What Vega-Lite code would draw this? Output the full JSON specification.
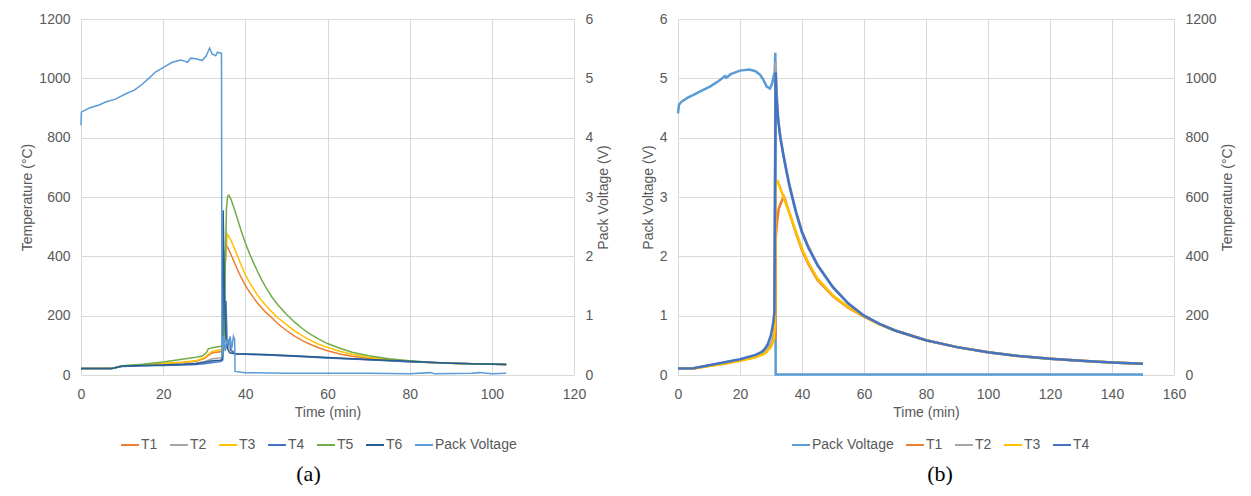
{
  "$schema": "https://vega.github.io/schema/vega-lite/v6.json",
  "background": "white",
  "padding": {"left": 20, "top": 12, "right": 3, "bottom": 0},
  "spacing": 30,
  "config": {
    "font": "Liberation Sans",
    "view": {"stroke": null},
    "axis": {
      "labelFont": "Liberation Sans", "labelFontSize": 14, "labelColor": "#595959",
      "titleFont": "Liberation Sans", "titleFontSize": 14, "titleColor": "#595959", "titleFontWeight": "normal",
      "ticks": false, "domain": false, "gridColor": "#d9d9d9", "gridWidth": 1, "labelPadding": 11, "titlePadding": 4, "format": "d", "labelFlush": false
    },
    "axisX": {"labelPadding": 12, "titlePadding": 4},
    "legend": {
      "labelFont": "Liberation Sans", "labelFontSize": 14, "labelColor": "#595959",
      "symbolType": "stroke", "symbolSize": 324, "symbolStrokeWidth": 2, "labelOffset": 1,
      "direction": "horizontal", "orient": "none", "columns": 7, "columnPadding": 8, "title": null
    },
    "title": {"font": "Liberation Serif", "fontSize": 22, "fontWeight": "normal", "color": "#000000", "orient": "bottom", "anchor": "middle", "frame": "group", "offset": 12}
  },
  "resolve": {"scale": {"color": "independent"}},
  "datasets": {
    "a": [
      {"s":"T1","t":0,"v":22},{"s":"T1","t":7.5,"v":22},{"s":"T1","t":10,"v":30},{"s":"T1","t":15,"v":33},{"s":"T1","t":20,"v":38},{"s":"T1","t":25,"v":42},{"s":"T1","t":28,"v":46},{"s":"T1","t":30,"v":55},{"s":"T1","t":31,"v":66},{"s":"T1","t":32,"v":75},{"s":"T1","t":34,"v":78},{"s":"T1","t":34.6,"v":82},{"s":"T1","t":34.9,"v":300},{"s":"T1","t":35.3,"v":440},{"s":"T1","t":36,"v":422},{"s":"T1","t":37,"v":390},{"s":"T1","t":38,"v":358},{"s":"T1","t":39,"v":328},{"s":"T1","t":40,"v":302},{"s":"T1","t":41,"v":280},{"s":"T1","t":42,"v":260},{"s":"T1","t":43,"v":242},{"s":"T1","t":44,"v":226},{"s":"T1","t":45,"v":211},{"s":"T1","t":46.5,"v":192},{"s":"T1","t":48,"v":172},{"s":"T1","t":50,"v":150},{"s":"T1","t":52,"v":131},{"s":"T1","t":54,"v":115},{"s":"T1","t":56,"v":102},{"s":"T1","t":58,"v":91},{"s":"T1","t":60,"v":82},{"s":"T1","t":63,"v":71},{"s":"T1","t":66,"v":63},{"s":"T1","t":70,"v":56},{"s":"T1","t":75,"v":50},{"s":"T1","t":80,"v":45},{"s":"T1","t":85,"v":42},{"s":"T1","t":90,"v":40},{"s":"T1","t":95,"v":38},{"s":"T1","t":100,"v":36},{"s":"T1","t":103.5,"v":35},
      {"s":"T2","t":0,"v":22},{"s":"T2","t":7.5,"v":22},{"s":"T2","t":10,"v":30},{"s":"T2","t":15,"v":32},{"s":"T2","t":20,"v":34},{"s":"T2","t":25,"v":37},{"s":"T2","t":28,"v":40},{"s":"T2","t":30,"v":45},{"s":"T2","t":32,"v":55},{"s":"T2","t":34,"v":58},{"s":"T2","t":34.6,"v":62},{"s":"T2","t":34.9,"v":180},{"s":"T2","t":35.3,"v":110},{"s":"T2","t":35.8,"v":95},{"s":"T2","t":36.5,"v":80},{"s":"T2","t":37.5,"v":72},{"s":"T2","t":45,"v":68},{"s":"T2","t":53,"v":63},{"s":"T2","t":60,"v":58},{"s":"T2","t":70,"v":51},{"s":"T2","t":80,"v":45},{"s":"T2","t":90,"v":40},{"s":"T2","t":103.5,"v":35},
      {"s":"T3","t":0,"v":22},{"s":"T3","t":7.5,"v":22},{"s":"T3","t":10,"v":30},{"s":"T3","t":15,"v":34},{"s":"T3","t":20,"v":39},{"s":"T3","t":25,"v":44},{"s":"T3","t":28,"v":48},{"s":"T3","t":30,"v":58},{"s":"T3","t":31,"v":70},{"s":"T3","t":32,"v":80},{"s":"T3","t":34,"v":85},{"s":"T3","t":34.7,"v":90},{"s":"T3","t":35,"v":350},{"s":"T3","t":35.6,"v":475},{"s":"T3","t":36.3,"v":460},{"s":"T3","t":37,"v":438},{"s":"T3","t":38,"v":405},{"s":"T3","t":39,"v":370},{"s":"T3","t":40,"v":338},{"s":"T3","t":41,"v":312},{"s":"T3","t":42,"v":290},{"s":"T3","t":43,"v":268},{"s":"T3","t":44,"v":250},{"s":"T3","t":45,"v":234},{"s":"T3","t":46.5,"v":212},{"s":"T3","t":48,"v":192},{"s":"T3","t":50,"v":170},{"s":"T3","t":52,"v":149},{"s":"T3","t":54,"v":131},{"s":"T3","t":56,"v":116},{"s":"T3","t":58,"v":103},{"s":"T3","t":60,"v":93},{"s":"T3","t":63,"v":80},{"s":"T3","t":66,"v":70},{"s":"T3","t":70,"v":60},{"s":"T3","t":75,"v":52},{"s":"T3","t":80,"v":46},{"s":"T3","t":85,"v":42},{"s":"T3","t":90,"v":40},{"s":"T3","t":95,"v":38},{"s":"T3","t":100,"v":36},{"s":"T3","t":103.5,"v":35},
      {"s":"T4","t":0,"v":22},{"s":"T4","t":7.5,"v":22},{"s":"T4","t":10,"v":29},{"s":"T4","t":15,"v":31},{"s":"T4","t":20,"v":32},{"s":"T4","t":25,"v":34},{"s":"T4","t":28,"v":35},{"s":"T4","t":30,"v":38},{"s":"T4","t":32,"v":42},{"s":"T4","t":34,"v":45},{"s":"T4","t":34.5,"v":50},{"s":"T4","t":34.7,"v":420},{"s":"T4","t":35,"v":150},{"s":"T4","t":35.3,"v":250},{"s":"T4","t":35.6,"v":90},{"s":"T4","t":36,"v":120},{"s":"T4","t":36.5,"v":85},{"s":"T4","t":37.5,"v":72},{"s":"T4","t":45,"v":67},{"s":"T4","t":53,"v":62},{"s":"T4","t":60,"v":57},{"s":"T4","t":70,"v":51},{"s":"T4","t":80,"v":45},{"s":"T4","t":90,"v":40},{"s":"T4","t":103.5,"v":35},
      {"s":"T5","t":0,"v":22},{"s":"T5","t":7.5,"v":22},{"s":"T5","t":10,"v":31},{"s":"T5","t":15,"v":36},{"s":"T5","t":20,"v":44},{"s":"T5","t":25,"v":54},{"s":"T5","t":28,"v":60},{"s":"T5","t":29.5,"v":64},{"s":"T5","t":30.5,"v":75},{"s":"T5","t":31,"v":88},{"s":"T5","t":32,"v":92},{"s":"T5","t":34,"v":97},{"s":"T5","t":34.8,"v":102},{"s":"T5","t":35.1,"v":350},{"s":"T5","t":35.4,"v":560},{"s":"T5","t":35.7,"v":603},{"s":"T5","t":36,"v":606},{"s":"T5","t":36.5,"v":592},{"s":"T5","t":37.2,"v":565},{"s":"T5","t":38,"v":530},{"s":"T5","t":39,"v":485},{"s":"T5","t":40,"v":445},{"s":"T5","t":41,"v":410},{"s":"T5","t":42,"v":378},{"s":"T5","t":43,"v":348},{"s":"T5","t":44,"v":320},{"s":"T5","t":45,"v":295},{"s":"T5","t":46.5,"v":262},{"s":"T5","t":48,"v":235},{"s":"T5","t":50,"v":205},{"s":"T5","t":52,"v":178},{"s":"T5","t":54,"v":155},{"s":"T5","t":56,"v":136},{"s":"T5","t":58,"v":120},{"s":"T5","t":60,"v":106},{"s":"T5","t":63,"v":90},{"s":"T5","t":66,"v":77},{"s":"T5","t":70,"v":65},{"s":"T5","t":75,"v":55},{"s":"T5","t":80,"v":48},{"s":"T5","t":85,"v":43},{"s":"T5","t":90,"v":40},{"s":"T5","t":95,"v":38},{"s":"T5","t":100,"v":36},{"s":"T5","t":103.5,"v":35},
      {"s":"T6","t":0,"v":22},{"s":"T6","t":7.5,"v":22},{"s":"T6","t":10,"v":30},{"s":"T6","t":15,"v":32},{"s":"T6","t":20,"v":34},{"s":"T6","t":25,"v":36},{"s":"T6","t":28,"v":39},{"s":"T6","t":30,"v":43},{"s":"T6","t":32,"v":48},{"s":"T6","t":34,"v":50},{"s":"T6","t":34.4,"v":55},{"s":"T6","t":34.6,"v":555},{"s":"T6","t":34.9,"v":300},{"s":"T6","t":35.2,"v":140},{"s":"T6","t":35.6,"v":90},{"s":"T6","t":36.2,"v":75},{"s":"T6","t":37.5,"v":72},{"s":"T6","t":45,"v":69},{"s":"T6","t":53,"v":64},{"s":"T6","t":60,"v":59},{"s":"T6","t":70,"v":52},{"s":"T6","t":80,"v":46},{"s":"T6","t":90,"v":40},{"s":"T6","t":103.5,"v":35},
      {"s":"Pack Voltage","t":0,"v":4.21},{"s":"Pack Voltage","t":0.1,"v":4.43},{"s":"Pack Voltage","t":2,"v":4.5},{"s":"Pack Voltage","t":4.4,"v":4.55},{"s":"Pack Voltage","t":6,"v":4.6},{"s":"Pack Voltage","t":8.4,"v":4.65},{"s":"Pack Voltage","t":10.9,"v":4.74},{"s":"Pack Voltage","t":13,"v":4.8},{"s":"Pack Voltage","t":14.9,"v":4.9},{"s":"Pack Voltage","t":16.5,"v":5.0},{"s":"Pack Voltage","t":18.2,"v":5.11},{"s":"Pack Voltage","t":20,"v":5.18},{"s":"Pack Voltage","t":22.2,"v":5.27},{"s":"Pack Voltage","t":24.3,"v":5.31},{"s":"Pack Voltage","t":25.2,"v":5.29},{"s":"Pack Voltage","t":25.9,"v":5.27},{"s":"Pack Voltage","t":26.7,"v":5.34},{"s":"Pack Voltage","t":28,"v":5.33},{"s":"Pack Voltage","t":29.5,"v":5.3},{"s":"Pack Voltage","t":30.5,"v":5.38},{"s":"Pack Voltage","t":31.3,"v":5.51},{"s":"Pack Voltage","t":31.9,"v":5.41},{"s":"Pack Voltage","t":32.8,"v":5.38},{"s":"Pack Voltage","t":33.2,"v":5.44},{"s":"Pack Voltage","t":34.2,"v":5.42},{"s":"Pack Voltage","t":34.3,"v":0.3},{"s":"Pack Voltage","t":34.7,"v":0.65},{"s":"Pack Voltage","t":35.1,"v":0.4},{"s":"Pack Voltage","t":35.5,"v":0.6},{"s":"Pack Voltage","t":35.9,"v":0.5},{"s":"Pack Voltage","t":36.3,"v":0.65},{"s":"Pack Voltage","t":36.7,"v":0.45},{"s":"Pack Voltage","t":37.1,"v":0.65},{"s":"Pack Voltage","t":37.4,"v":0.6},{"s":"Pack Voltage","t":37.5,"v":0.06},{"s":"Pack Voltage","t":40,"v":0.04},{"s":"Pack Voltage","t":50,"v":0.03},{"s":"Pack Voltage","t":60,"v":0.03},{"s":"Pack Voltage","t":70,"v":0.03},{"s":"Pack Voltage","t":80,"v":0.02},{"s":"Pack Voltage","t":85,"v":0.04},{"s":"Pack Voltage","t":86,"v":0.02},{"s":"Pack Voltage","t":95,"v":0.03},{"s":"Pack Voltage","t":97,"v":0.04},{"s":"Pack Voltage","t":100,"v":0.02},{"s":"Pack Voltage","t":103.5,"v":0.03}
    ],
    "b": [
      {"s":"Pack Voltage","t":0,"v":4.41},{"s":"Pack Voltage","t":0.3,"v":4.55},{"s":"Pack Voltage","t":1,"v":4.6},{"s":"Pack Voltage","t":3,"v":4.67},{"s":"Pack Voltage","t":5,"v":4.72},{"s":"Pack Voltage","t":8,"v":4.8},{"s":"Pack Voltage","t":10.3,"v":4.86},{"s":"Pack Voltage","t":13,"v":4.95},{"s":"Pack Voltage","t":15.2,"v":5.04},{"s":"Pack Voltage","t":15.6,"v":5.01},{"s":"Pack Voltage","t":17,"v":5.07},{"s":"Pack Voltage","t":20,"v":5.13},{"s":"Pack Voltage","t":23,"v":5.15},{"s":"Pack Voltage","t":25,"v":5.12},{"s":"Pack Voltage","t":26.5,"v":5.06},{"s":"Pack Voltage","t":27.5,"v":4.98},{"s":"Pack Voltage","t":28.6,"v":4.86},{"s":"Pack Voltage","t":29.7,"v":4.83},{"s":"Pack Voltage","t":30.4,"v":4.92},{"s":"Pack Voltage","t":30.9,"v":5.05},{"s":"Pack Voltage","t":31.2,"v":5.1},{"s":"Pack Voltage","t":31.4,"v":5.43},{"s":"Pack Voltage","t":31.5,"v":0.01},{"s":"Pack Voltage","t":40,"v":0.01},{"s":"Pack Voltage","t":150,"v":0.01},
      {"s":"T1","t":0,"v":22},{"s":"T1","t":5,"v":22},{"s":"T1","t":10,"v":31},{"s":"T1","t":15,"v":39},{"s":"T1","t":20,"v":49},{"s":"T1","t":25,"v":61},{"s":"T1","t":28,"v":74},{"s":"T1","t":30,"v":98},{"s":"T1","t":31,"v":120},{"s":"T1","t":31.4,"v":130},{"s":"T1","t":31.5,"v":460},{"s":"T1","t":32,"v":520},{"s":"T1","t":32.5,"v":560},{"s":"T1","t":33,"v":575},{"s":"T1","t":33.6,"v":590},{"s":"T1","t":34.1,"v":602},{"s":"T1","t":34.6,"v":590},{"s":"T1","t":35,"v":575},{"s":"T1","t":36,"v":545},{"s":"T1","t":38,"v":480},{"s":"T1","t":40,"v":420},{"s":"T1","t":42,"v":375},{"s":"T1","t":45,"v":320},{"s":"T1","t":50,"v":265},{"s":"T1","t":55,"v":226},{"s":"T1","t":60,"v":197},{"s":"T1","t":65,"v":171},{"s":"T1","t":70,"v":150},{"s":"T1","t":80,"v":117},{"s":"T1","t":90,"v":94},{"s":"T1","t":100,"v":77},{"s":"T1","t":110,"v":64},{"s":"T1","t":120,"v":55},{"s":"T1","t":130,"v":48},{"s":"T1","t":140,"v":42},{"s":"T1","t":150,"v":38},
      {"s":"T2","t":0,"v":22},{"s":"T2","t":5,"v":23},{"s":"T2","t":10,"v":32},{"s":"T2","t":15,"v":40},{"s":"T2","t":20,"v":50},{"s":"T2","t":25,"v":62},{"s":"T2","t":28,"v":78},{"s":"T2","t":30,"v":105},{"s":"T2","t":31,"v":140},{"s":"T2","t":31.3,"v":700},{"s":"T2","t":31.5,"v":1055},{"s":"T2","t":31.8,"v":960},{"s":"T2","t":32.3,"v":870},{"s":"T2","t":33,"v":805},{"s":"T2","t":34,"v":745},{"s":"T2","t":35,"v":690},{"s":"T2","t":36,"v":640},{"s":"T2","t":38,"v":555},{"s":"T2","t":40,"v":485},{"s":"T2","t":42,"v":435},{"s":"T2","t":45,"v":372},{"s":"T2","t":50,"v":297},{"s":"T2","t":55,"v":241},{"s":"T2","t":60,"v":200},{"s":"T2","t":65,"v":172},{"s":"T2","t":70,"v":150},{"s":"T2","t":80,"v":117},{"s":"T2","t":90,"v":94},{"s":"T2","t":100,"v":77},{"s":"T2","t":110,"v":64},{"s":"T2","t":120,"v":55},{"s":"T2","t":130,"v":48},{"s":"T2","t":140,"v":42},{"s":"T2","t":150,"v":38},
      {"s":"T3","t":0,"v":22},{"s":"T3","t":5,"v":22},{"s":"T3","t":10,"v":30},{"s":"T3","t":15,"v":38},{"s":"T3","t":20,"v":48},{"s":"T3","t":25,"v":60},{"s":"T3","t":28,"v":72},{"s":"T3","t":30,"v":95},{"s":"T3","t":31,"v":125},{"s":"T3","t":31.3,"v":180},{"s":"T3","t":31.5,"v":640},{"s":"T3","t":32.2,"v":652},{"s":"T3","t":33,"v":630},{"s":"T3","t":34,"v":600},{"s":"T3","t":35,"v":572},{"s":"T3","t":36,"v":545},{"s":"T3","t":38,"v":485},{"s":"T3","t":40,"v":425},{"s":"T3","t":42,"v":380},{"s":"T3","t":45,"v":325},{"s":"T3","t":50,"v":268},{"s":"T3","t":55,"v":228},{"s":"T3","t":60,"v":198},{"s":"T3","t":65,"v":171},{"s":"T3","t":70,"v":150},{"s":"T3","t":80,"v":117},{"s":"T3","t":90,"v":94},{"s":"T3","t":100,"v":77},{"s":"T3","t":110,"v":64},{"s":"T3","t":120,"v":55},{"s":"T3","t":130,"v":48},{"s":"T3","t":140,"v":42},{"s":"T3","t":150,"v":38},
      {"s":"T4","t":0,"v":22},{"s":"T4","t":5,"v":23},{"s":"T4","t":10,"v":33},{"s":"T4","t":15,"v":43},{"s":"T4","t":20,"v":53},{"s":"T4","t":25,"v":68},{"s":"T4","t":27,"v":78},{"s":"T4","t":28,"v":88},{"s":"T4","t":29,"v":105},{"s":"T4","t":30,"v":135},{"s":"T4","t":30.7,"v":175},{"s":"T4","t":31.1,"v":210},{"s":"T4","t":31.3,"v":600},{"s":"T4","t":31.5,"v":1020},{"s":"T4","t":31.8,"v":930},{"s":"T4","t":32.3,"v":860},{"s":"T4","t":33,"v":800},{"s":"T4","t":34,"v":740},{"s":"T4","t":35,"v":685},{"s":"T4","t":36,"v":635},{"s":"T4","t":38,"v":550},{"s":"T4","t":40,"v":480},{"s":"T4","t":42,"v":430},{"s":"T4","t":45,"v":370},{"s":"T4","t":50,"v":295},{"s":"T4","t":55,"v":240},{"s":"T4","t":60,"v":200},{"s":"T4","t":65,"v":172},{"s":"T4","t":70,"v":150},{"s":"T4","t":80,"v":117},{"s":"T4","t":90,"v":94},{"s":"T4","t":100,"v":77},{"s":"T4","t":110,"v":64},{"s":"T4","t":120,"v":55},{"s":"T4","t":130,"v":48},{"s":"T4","t":140,"v":42},{"s":"T4","t":150,"v":38}
    ]
  },
  "hconcat": [
    {
      "width": 493, "height": 356,
      "title": {"text": "(a)", "dx": -19},
      "resolve": {"scale": {"y": "independent"}},
      "layer": [
        {
          "data": {"name": "a"},
          "transform": [{"filter": "datum.s != 'Pack Voltage'"}],
          "mark": {"type": "line", "strokeWidth": 1.5},
          "encoding": {
            "x": {"field": "t", "type": "quantitative", "scale": {"domain": [0, 120], "nice": false}, "axis": {"title": "Time (min)", "values": [0, 20, 40, 60, 80, 100, 120]}},
            "y": {"field": "v", "type": "quantitative", "scale": {"domain": [0, 1200], "nice": false}, "axis": {"title": "Temperature (°C)", "values": [0, 200, 400, 600, 800, 1000, 1200]}},
            "color": {"field": "s", "type": "nominal", "scale": {"domain": ["T1", "T2", "T3", "T4", "T5", "T6", "Pack Voltage"], "range": ["#ED7D31", "#A5A5A5", "#FFC000", "#4472C4", "#70AD47", "#255E91", "#5B9BD5"]}, "legend": {"legendX": 39, "legendY": 416}}
          }
        },
        {
          "data": {"name": "a"},
          "transform": [{"filter": "datum.s == 'Pack Voltage'"}],
          "mark": {"type": "line", "strokeWidth": 1.5},
          "encoding": {
            "x": {"field": "t", "type": "quantitative"},
            "y": {"field": "v", "type": "quantitative", "scale": {"domain": [0, 6], "nice": false}, "axis": {"orient": "right", "grid": false, "title": "Pack Voltage (V)", "titleAngle": 270, "titleBaseline": "top", "values": [0, 1, 2, 3, 4, 5, 6]}},
            "color": {"field": "s", "type": "nominal"}
          }
        }
      ]
    },
    {
      "width": 496, "height": 356,
      "title": {"text": "(b)", "dx": 14},
      "resolve": {"scale": {"y": "independent"}},
      "layer": [
        {
          "data": {"name": "b"},
          "transform": [{"filter": "datum.s == 'Pack Voltage'"}],
          "mark": {"type": "line", "strokeWidth": 2.5},
          "encoding": {
            "x": {"field": "t", "type": "quantitative", "scale": {"domain": [0, 160], "nice": false}, "axis": {"title": "Time (min)", "values": [0, 20, 40, 60, 80, 100, 120, 140, 160]}},
            "y": {"field": "v", "type": "quantitative", "scale": {"domain": [0, 6], "nice": false}, "axis": {"title": "Pack Voltage (V)", "values": [0, 1, 2, 3, 4, 5, 6]}},
            "color": {"field": "s", "type": "nominal", "scale": {"domain": ["Pack Voltage", "T1", "T2", "T3", "T4"], "range": ["#5B9BD5", "#ED7D31", "#A5A5A5", "#FFC000", "#4472C4"]}, "legend": {"legendX": 113, "legendY": 416}}
          }
        },
        {
          "data": {"name": "b"},
          "transform": [{"filter": "datum.s != 'Pack Voltage'"}],
          "mark": {"type": "line", "strokeWidth": 2.5},
          "encoding": {
            "x": {"field": "t", "type": "quantitative"},
            "y": {"field": "v", "type": "quantitative", "scale": {"domain": [0, 1200], "nice": false}, "axis": {"orient": "right", "grid": false, "title": "Temperature (°C)", "titleAngle": 270, "titleBaseline": "top", "values": [0, 200, 400, 600, 800, 1000, 1200]}},
            "color": {"field": "s", "type": "nominal"}
          }
        }
      ]
    }
  ]
}
